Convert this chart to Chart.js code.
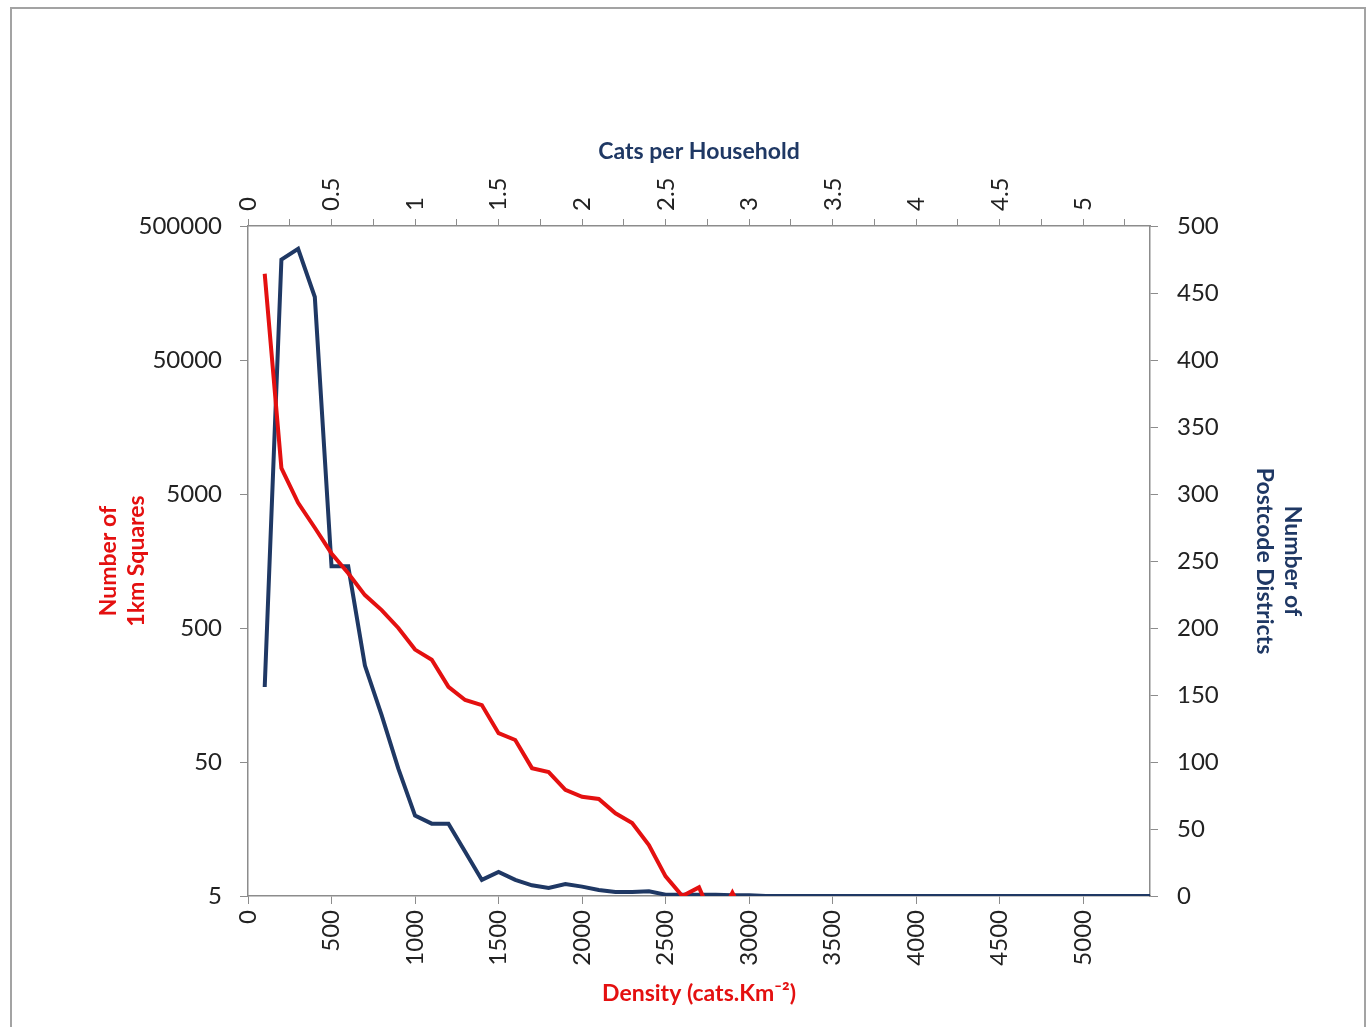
<!DOCTYPE html>
<html>
<head>
<meta charset="utf-8">
<script src="https://cdn.jsdelivr.net/npm/chart.js@4/dist/chart.umd.min.js"></script>
<style>
  html, body { margin: 0; padding: 0; background: #fff; overflow: hidden; }
  #frame { position: absolute; left: 10px; top: 7px; width: 1352px; height: 1040px; border: 2px solid #a3a3a3; }
  #chart { position: absolute; left: 0; top: 0; }
</style>
</head>
<body>
<div id="frame"></div>
<canvas id="chart" width="1367" height="1027"></canvas>
<script>
// red series: number of 1km squares (left, log axis)
const densityRed = [100, 200, 300, 400, 500, 600, 700, 800, 900, 1000,
    1100, 1200, 1300, 1400, 1500, 1600, 1700, 1800, 1900, 2000,
    2100, 2200, 2300, 2400, 2500, 2600, 2700, 2800, 2900, 3000];
const squaresCount = [220000, 7800, 4300, 2800, 1800, 1280, 880, 680, 500, 345,
    290, 182, 145, 133, 82, 73, 45, 42, 31, 27.5,
    26.5, 20.7, 17.5, 12, 7, 5, 5.8, 3, 5.3, 3];

// blue series: number of postcode districts (right, linear axis)
const densityBlue = [100, 200, 300, 400, 500, 600, 700, 800, 900, 1000,
    1100, 1200, 1300, 1400, 1500, 1600, 1700, 1800, 1900, 2000,
    2100, 2200, 2300, 2400, 2500, 2600, 2700, 2800, 2900, 3000,
    3100, 3200, 3300, 3400, 3500, 3600, 3700, 3800, 3900, 4000,
    4100, 4200, 4300, 4400, 4500, 4600, 4700, 4800, 4900, 5000,
    5100, 5200, 5300, 5400];
const districtCount = [156, 475, 483, 447, 246, 246, 172, 135, 95, 60,
    54, 54, 33, 12, 18, 12, 8, 6, 9, 7,
    4.5, 3, 3, 3.5, 1, 1, 1, 1, 0.5, 0.5,
    0, 0, 0, 0, 0, 0, 0, 0, 0, 0,
    0, 0, 0, 0, 0, 0, 0, 0, 0, 0,
    0, 0, 0, 0];

// tick values
const densityTicks = [0, 500, 1000, 1500, 2000, 2500, 3000, 3500, 4000, 4500, 5000];
const catsTicks = [0, 0.25, 0.5, 0.75, 1, 1.25, 1.5, 1.75, 2, 2.25, 2.5, 2.75,
    3, 3.25, 3.5, 3.75, 4, 4.25, 4.5, 4.75, 5, 5.25];
const catsLabelled = [0, 0.5, 1, 1.5, 2, 2.5, 3, 3.5, 4, 4.5, 5];
const leftTicks = [5, 50, 500, 5000, 50000, 500000];
const xMax = 5400;

const RED = '#e41010';
const NAVY = '#1f3864';
const AXIS = '#8c8c8c';
const tickFont = { family: 'Lato', size: 24 };
const titleFont = { family: 'Lato', size: 23, weight: 'bold', lineHeight: 1.2 };

const ctx = document.getElementById('chart').getContext('2d');
const chart = new Chart(ctx, {
    type: 'line',
    data: {
        datasets: [{
            label: 'Number of 1km Squares',
            data: densityRed.map((x, i) => ({ x: x, y: squaresCount[i] })),
            borderColor: RED,
            borderWidth: 4,
            pointRadius: 0,
            fill: false,
            xAxisID: 'x',
            yAxisID: 'y'
        }, {
            label: 'Number of Postcode Districts',
            data: densityBlue.map((x, i) => ({ x: x, y: districtCount[i] })),
            borderColor: NAVY,
            borderWidth: 4,
            pointRadius: 0,
            fill: false,
            xAxisID: 'x',
            yAxisID: 'y1'
        }]
    },
    options: {
        responsive: false,
        animation: false,
        layout: { padding: { left: 95, right: 61, top: 138, bottom: 20 } },
        plugins: { legend: { display: false }, tooltip: { enabled: false } },
        scales: {
            x: {
                type: 'linear',
                position: 'bottom',
                min: 0,
                max: xMax,
                afterBuildTicks: s => { s.ticks = densityTicks.map(v => ({ value: v })); },
                afterFit: s => { s.height = 111; },
                ticks: { autoSkip: false, minRotation: 90, maxRotation: 90,
                    color: '#222', font: tickFont, padding: 6, callback: v => String(v) },
                grid: { drawOnChartArea: false, tickLength: 8, tickColor: AXIS },
                border: { color: AXIS, width: 1.5 },
                title: { display: true, text: 'Density (cats.Km⁻²)', color: RED, font: titleFont, padding: 0 }
            },
            x2: {
                type: 'linear',
                position: 'top',
                min: 0,
                max: xMax / 1000,
                afterBuildTicks: s => { s.ticks = catsTicks.map(v => ({ value: v })); },
                afterFit: s => { s.height = 88; },
                ticks: { autoSkip: false, minRotation: 90, maxRotation: 90, labelOffset: 29,
                    color: '#222', font: tickFont, padding: 8,
                    callback: v => (catsLabelled.includes(v) ? String(v) : '') },
                grid: { drawOnChartArea: false, tickLength: 7, tickColor: AXIS },
                border: { color: AXIS, width: 1.5 },
                title: { display: true, text: 'Cats per Household', color: NAVY, font: titleFont, padding: 0 }
            },
            y: {
                type: 'logarithmic',
                position: 'left',
                min: 5,
                max: 500000,
                afterBuildTicks: s => { s.ticks = leftTicks.map(v => ({ value: v })); },
                afterFit: s => { s.width = 153; },
                ticks: { color: '#222', font: tickFont, padding: 18, callback: v => String(v) },
                grid: { drawOnChartArea: false, tickLength: 8, tickColor: AXIS },
                border: { color: AXIS, width: 1.5 },
                title: { display: true, text: ['Number of', '1km Squares'], color: RED, font: titleFont, padding: 0 }
            },
            y1: {
                type: 'linear',
                position: 'right',
                min: 0,
                max: 500,
                afterFit: s => { s.width = 156; },
                ticks: { stepSize: 50, color: '#222', font: tickFont, padding: 19 },
                grid: { drawOnChartArea: false, tickLength: 8, tickColor: AXIS },
                border: { color: AXIS, width: 1.5 },
                title: { display: true, text: ['Number of', 'Postcode Districts'], color: NAVY, font: titleFont, padding: 0 }
            }
        }
    }
});
</script>
</body>
</html>
